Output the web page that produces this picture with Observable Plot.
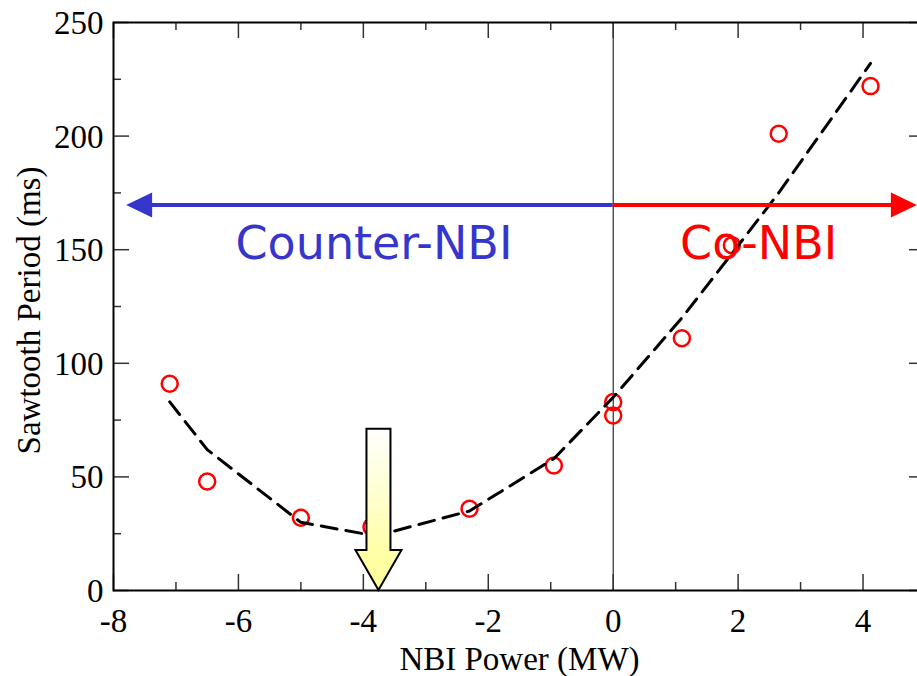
<!DOCTYPE html>
<html>
<head>
<meta charset="utf-8">
<script src="https://cdn.jsdelivr.net/npm/d3@7"></script>
<script src="https://cdn.jsdelivr.net/npm/@observablehq/plot@0.6"></script>
<style>
  html, body { margin: 0; padding: 0; background: #fff; overflow: hidden; }
  #chart svg { max-width: none; display: block; }
</style>
</head>
<body>
<div id="chart"></div>
<script>
// Measured sawtooth periods against NBI power (negative = counter-injection)
const powerMW  = [-7.1, -6.5, -5.0, -3.87, -2.3, -0.95, 0, 0, 1.1, 1.9, 2.65, 4.12];
const periodMs = [91, 48, 32, 28, 36, 55, 83, 77, 111, 152, 201, 222];

// Dashed trend curve through the data
const trendPower  = [-7.1, -6.5, -5.0, -3.8, -2.3, -0.95, 0, 1.1, 1.95, 2.65, 4.12];
const trendPeriod = [83, 62, 30, 24, 35, 58, 85, 120, 150, 175, 232];

// Axis ticks
const xMajor = [-8, -6, -4, -2, 0, 2, 4];
const xMinor = [-7, -5, -3, -1, 1, 3];
const yMajor = [0, 50, 100, 150, 200, 250];
const yMinor = [25, 75, 125, 175, 225];

// Injection-direction annotation
const directionLevel = 169.5;   // period level of the direction arrows
const counterEnd = -7.79;       // power where the counter-NBI arrow ends
const coEnd = 4.87;             // power where the co-NBI arrow ends
const counterLabel = {text: "Counter-NBI", x: -3.83, y: 152.5};
const coLabel = {text: "Co-NBI", x: 2.33, y: 152.5};

// Minimum-period marker
const optimumPower = -3.75;
const optimumTop = 71;

const xTitle = "NBI Power (MW)";
const yTitle = "Sawtooth Period (ms)";

const points = powerMW.map((p, i) => ({power: p, period: periodMs[i]}));
const trend = trendPower.map((p, i) => ({power: p, period: trendPeriod[i]}));

const W = 925, H = 676, mL = 113, mR = 0, mT = 22, mB = 86;
const innerW = W - mL - mR, innerH = H - mT - mB;
const serif = "'Liberation Serif', 'Times New Roman', serif";
const sans = "'DejaVu Sans', sans-serif";
const NS = "http://www.w3.org/2000/svg";

// Horizontal arrows with filled heads for the two injection directions
function directionArrows(index, {x, y}) {
  const yy = y(directionLevel), x0 = x(0);
  const xl = x(counterEnd), xr = x(coEnd);
  const hl = 26, hh = 12.5;
  const g = document.createElementNS(NS, "g");
  g.innerHTML =
    `<line x1="${x0}" y1="${yy}" x2="${xl + hl - 2}" y2="${yy}" stroke="#3636cc" stroke-width="4"/>` +
    `<path d="M${xl},${yy}L${xl + hl},${yy - hh}L${xl + hl},${yy + hh}Z" fill="#3636cc"/>` +
    `<line x1="${x0}" y1="${yy}" x2="${xr - hl + 2}" y2="${yy}" stroke="#ff0000" stroke-width="4"/>` +
    `<path d="M${xr},${yy}L${xr - hl},${yy - hh}L${xr - hl},${yy + hh}Z" fill="#ff0000"/>`;
  return g;
}

// Block arrow pointing down at the minimum sawtooth period
function optimumArrow(index, {x, y}) {
  const cx = x(optimumPower), top = y(optimumTop), tip = y(0);
  const shaft = 12, head = 23, headLen = 40;
  const base = tip - headLen;
  const g = document.createElementNS(NS, "g");
  g.innerHTML =
    `<defs><linearGradient id="optGrad" x1="0" y1="0" x2="0" y2="1">` +
    `<stop offset="0" stop-color="#ffffff"/><stop offset="0.75" stop-color="#ffffa8"/><stop offset="1" stop-color="#ffff99"/>` +
    `</linearGradient></defs>` +
    `<path d="M${cx - shaft},${top}H${cx + shaft}V${base}H${cx + head}L${cx},${tip}L${cx - head},${base}H${cx - shaft}Z" ` +
    `fill="url(#optGrad)" stroke="#000" stroke-width="2" stroke-linejoin="miter"/>`;
  return g;
}

const tickStyle = {stroke: "#333", strokeWidth: 1.5};
const labelStyle = {fontSize: 33, fontFamily: serif, fill: "#000", lineAnchor: "middle"};

const chart = Plot.plot({
  width: W,
  height: H,
  marginLeft: mL,
  marginRight: mR,
  marginTop: mT,
  marginBottom: mB,
  x: {domain: [-8, 5], axis: null},
  y: {domain: [0, 250], axis: null},
  style: {background: "#fff", overflow: "visible"},
  marks: [
    Plot.ruleX([0], {stroke: "#000", strokeWidth: 1}),
    Plot.dot(points, {x: "power", y: "period", r: 8, stroke: "#ff0000", strokeWidth: 2.5, fill: "none"}),
    Plot.line(trend, {x: "power", y: "period", stroke: "#000", strokeWidth: 3, strokeDasharray: "16,9"}),
    directionArrows,
    Plot.text([counterLabel], {x: "x", y: "y", text: "text", fill: "#3636cc", fontSize: 46, fontFamily: sans}),
    Plot.text([coLabel], {x: "x", y: "y", text: "text", fill: "#ff0000", fontSize: 46, fontFamily: sans}),
    optimumArrow,
    // inward ticks on all four sides
    Plot.tickX(xMajor, {x: d => d, insetTop: innerH - 16, ...tickStyle}),
    Plot.tickX(xMinor, {x: d => d, insetTop: innerH - 8, ...tickStyle}),
    Plot.tickX(xMajor, {x: d => d, insetBottom: innerH - 16, ...tickStyle}),
    Plot.tickX(xMinor, {x: d => d, insetBottom: innerH - 8, ...tickStyle}),
    Plot.tickY(yMajor, {y: d => d, insetRight: innerW - 16, ...tickStyle}),
    Plot.tickY(yMinor, {y: d => d, insetRight: innerW - 8, ...tickStyle}),
    Plot.tickY(yMajor, {y: d => d, insetLeft: innerW - 16, ...tickStyle}),
    Plot.tickY(yMinor, {y: d => d, insetLeft: innerW - 8, ...tickStyle}),
    Plot.frame({stroke: "#000", strokeWidth: 2}),
    // tick labels
    Plot.text(xMajor, {x: d => d, frameAnchor: "bottom", dy: 31, textAnchor: "middle", text: d => String(d), ...labelStyle}),
    Plot.text(yMajor, {y: d => d, frameAnchor: "left", dx: -10, dy: 1, textAnchor: "end", text: d => String(d), ...labelStyle}),
    // axis titles
    Plot.text([xTitle], {frameAnchor: "bottom", dy: 69, textAnchor: "middle", text: d => d, ...labelStyle}),
    Plot.text([yTitle], {frameAnchor: "left", dx: -84, dy: 4, rotate: -90, textAnchor: "middle", text: d => d, ...labelStyle})
  ]
});

document.getElementById("chart").appendChild(chart);
</script>
</body>
</html>
